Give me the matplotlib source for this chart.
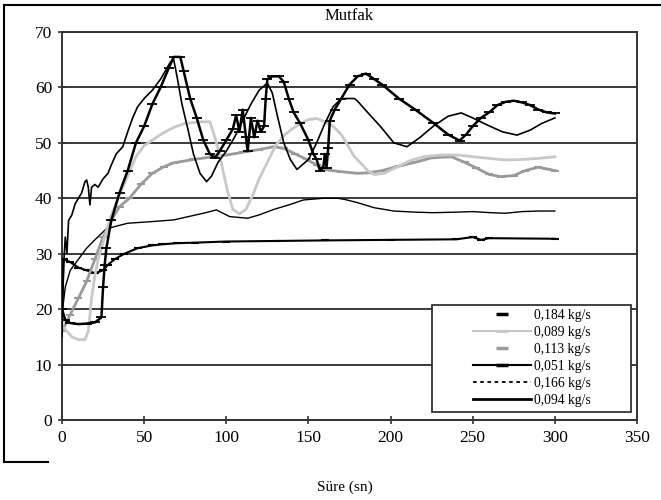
import matplotlib
matplotlib.use("Agg")
import matplotlib.pyplot as plt
from matplotlib.lines import Line2D
from matplotlib.patches import Rectangle

plt.rcParams['font.family'] = ['Liberation Serif', 'DejaVu Serif']

title = "Mutfak"
xlabel = "Süre (sn)"
labels = ["0,184 kg/s", "0,089 kg/s", "0,113 kg/s", "0,051 kg/s", "0,166 kg/s", "0,094 kg/s"]
xticks = [0, 50, 100, 150, 200, 250, 300, 350]
yticks = [0, 10, 20, 30, 40, 50, 60, 70]

# 0,184 kg/s
t184 = [0, 2, 5, 10, 15, 20, 24, 25, 26, 27, 30, 35, 40, 45, 50, 55, 60, 65, 68, 72, 74, 78, 82, 86,
        90, 93, 96, 100, 104, 106, 108, 110, 112, 113, 115, 117, 119, 121, 123, 124, 125, 128, 132,
        135, 138, 141, 145, 150, 153, 155, 157, 159, 160, 161, 162, 163, 166, 170, 175, 180, 185,
        190, 195, 205, 215, 226, 235, 242, 246, 250, 255, 260, 265, 270, 275, 280, 285, 290, 295, 300]
v184 = [20, 18, 17.5, 17.3, 17.4, 17.6, 18.5, 24, 28, 31, 36, 41, 45, 50, 53, 57, 60, 63.5, 65.5, 65.5,
        63, 58, 54.5, 50.5, 48, 47.3, 48.5, 50.5, 52.5, 55, 52, 56, 51, 48.5, 54.5, 51, 54, 52, 53, 58,
        61.5, 62, 62, 61, 58, 55.5, 53.5, 50.5, 48, 47, 45, 45.5, 48, 45.5, 49, 54, 56, 58, 60.5, 62,
        62.5, 61.5, 60.5, 58, 56, 53.6, 51.5, 50.4, 51.5, 53, 54.5, 55.5, 56.8, 57.4, 57.6, 57.3, 56.8,
        56, 55.5, 55.3]

# 0,094 kg/s
t094 = [0, 1, 2, 3, 4, 6, 8, 10, 12, 14, 15, 16, 17, 18, 20, 22, 25, 28, 30, 33, 37, 40, 43, 46, 50,
        55, 60, 63, 66, 68, 70, 73, 77, 80, 84, 88, 91, 95, 100, 105, 110, 115, 120, 125, 128, 131,
        135, 139, 143, 150, 155, 160, 165, 170, 178, 180, 186, 194, 202, 210, 218, 226, 235, 243,
        250, 259, 268, 277, 285, 292, 300]
v094 = [15, 28, 33, 30, 36, 37, 39, 40, 41, 43, 43.3, 42, 38.8, 42, 42.5, 42, 43.5, 44.5, 46, 48, 49.3,
        52, 54.5, 56.5, 58, 59.5, 61.5, 63, 64.6, 65, 62, 57, 52, 48, 44.5, 43, 44, 46.5, 48.5, 51, 54,
        57, 59.5, 60.8, 59, 55, 50, 47, 45.2, 47, 50, 53.5, 56.5, 58, 58, 57.5, 55.5, 52.9, 50, 49.3,
        51, 53, 54.8, 55.4, 54.5, 53.2, 52, 51.4, 52.3, 53.5, 54.5]

# 0,089 kg/s
t089 = [0, 3, 6, 10, 14, 16, 18, 20, 22, 25, 30, 37, 45, 50, 60, 68, 75, 84, 90, 92, 95, 98, 101, 104,
        108, 112, 116, 120, 125, 130, 135, 140, 145, 150, 155, 160, 165, 170, 174, 178, 182, 186, 190,
        196, 205, 212, 220, 230, 241, 250, 260, 270, 280, 290, 300]
v089 = [17, 16, 15, 14.5, 14.5, 16, 22, 26, 29, 32, 37, 42, 47.5, 49.5, 51.5, 52.8, 53.5, 53.8, 53.8,
        52, 49, 45, 41, 38, 37.2, 38, 40.5, 43.5, 46.5, 49.5, 51.3, 52.5, 53.5, 54.2, 54.4, 53.8, 53,
        51.5, 49.5, 47.5, 46.3, 45, 44.3, 44.5, 45.8, 46.8, 47.5, 47.8, 47.8, 47.5, 47.2, 46.9, 47,
        47.2, 47.5]

# 0,113 kg/s
t113 = [0, 5, 10, 15, 20, 25, 30, 35, 41, 48, 55, 62, 68, 80, 92, 100, 110, 120, 129, 135, 142, 149,
        155, 162, 170, 180, 186, 195, 205, 215, 225, 237, 245, 252, 260, 267, 275, 282, 290, 295, 300]
v113 = [16, 19, 22, 25, 29, 33, 36, 38.5, 40, 42.5, 44.5, 45.7, 46.4, 47, 47.5, 47.8, 48.3, 48.8, 49.3,
        49, 48, 47, 46, 45.1, 44.8, 44.5, 44.6, 45, 45.8, 46.5, 47.3, 47.5, 46.5, 45.5, 44.3, 43.9,
        44.1, 45, 45.6, 45.3, 45]

# 0,051 kg/s
t051 = [0, 1, 5, 10, 15, 20, 25, 28, 32, 38, 46, 55, 61, 70, 81, 100, 130, 160, 200, 240, 250, 255,
        260, 300]
v051 = [20, 29, 28.5, 27.5, 27, 26.5, 27, 28, 29, 30, 31, 31.5, 31.7, 31.9, 32, 32.2, 32.3, 32.4, 32.5,
        32.6, 33, 32.5, 32.8, 32.7]

# 0,166 kg/s
t166 = [0, 2, 5, 10, 15, 20, 27, 40, 55, 68, 86, 94, 102, 113, 120, 129, 138, 147, 159, 168, 172,
        180, 190, 202, 215, 226, 240, 250, 261, 270, 280, 290, 300]
v166 = [19, 24, 27, 29, 31, 32.5, 34.5, 35.5, 35.8, 36.1, 37.3, 37.9, 36.7, 36.4, 37, 38, 38.8, 39.7,
        40, 40, 39.8, 39.2, 38.3, 37.7, 37.5, 37.4, 37.5, 37.6, 37.4, 37.3, 37.6, 37.7, 37.7]

fig = plt.figure(figsize=(6.61, 5.0), dpi=100)
ax = fig.add_axes([62 / 661, 1 - 420 / 500, 575 / 661, 388 / 500])

ax.plot(t166, v166, color='black', lw=1.0, zorder=3)
ax.plot(t051, v051, color='black', lw=1.5, marker='_', ms=6, mew=1.5, zorder=3)
ax.plot(t113, v113, color='#9a9a9a', lw=2.0, marker='_', ms=6, mew=1.5, zorder=3)
ax.plot(t089, v089, color='#c8c8c8', lw=2.0, zorder=3)
ax.plot(t094, v094, color='black', lw=1.2, zorder=4)
ax.plot(t184, v184, color='black', lw=1.8, marker='_', ms=7, mew=1.3, zorder=5)

ax.set_xlim(0, 350)
ax.set_ylim(0, 70)
ax.set_xticks(xticks)
ax.set_yticks(yticks)
ax.tick_params(direction='inout', length=6, width=1.2, color='#333333', labelsize=12.5, pad=4)
ax.yaxis.grid(True, color='#3a3a3a', lw=1.4)
ax.set_axisbelow(True)
for s in ax.spines.values():
    s.set_color('#333333')
    s.set_linewidth(1.4)

ax.set_title(title, fontsize=12, pad=9)
fig.text(345 / 661, 1 - 487 / 500, xlabel, ha='center', va='center', fontsize=11)

# legend
handles = [
    Line2D([], [], color='black', ls='none', marker='_', ms=9, mew=2.5),
    Line2D([], [], color='#c8c8c8', lw=1.5, marker='_', ms=9, mew=2),
    Line2D([], [], color='#9a9a9a', ls='none', marker='_', ms=9, mew=2.5),
    Line2D([], [], color='black', lw=1.5, marker='_', ms=9, mew=2.5),
    Line2D([], [], color='black', lw=1.3, ls=(0, (2, 2))),
    Line2D([], [], color='black', lw=2.0),
]
ax.add_patch(Rectangle(((432 - 62) / 575, (420 - 412) / 388), (631 - 432) / 575, (412 - 305) / 388,
                       transform=ax.transAxes, fill=True, facecolor='white', edgecolor='#333333',
                       lw=1.3, zorder=6))
leg = ax.legend(handles, labels, loc='center left',
                bbox_to_anchor=((466 - 62) / 575, (420 - 358) / 388),
                frameon=False, fontsize=9.8, handlelength=4.3, handletextpad=0.2,
                labelspacing=0.3, borderpad=0, numpoints=1)
leg.set_zorder(7)

# outer frame fragments
fig.add_artist(Line2D([4 / 661, 1], [1 - 5 / 500, 1 - 5 / 500], color='black', lw=1.5))
fig.add_artist(Line2D([4 / 661, 4 / 661], [1 - 5 / 500, 1 - 462 / 500], color='black', lw=1.5))
fig.add_artist(Line2D([4 / 661, 48 / 661], [1 - 462 / 500, 1 - 462 / 500], color='black', lw=1.5))

fig.savefig("out.png", dpi=100)
